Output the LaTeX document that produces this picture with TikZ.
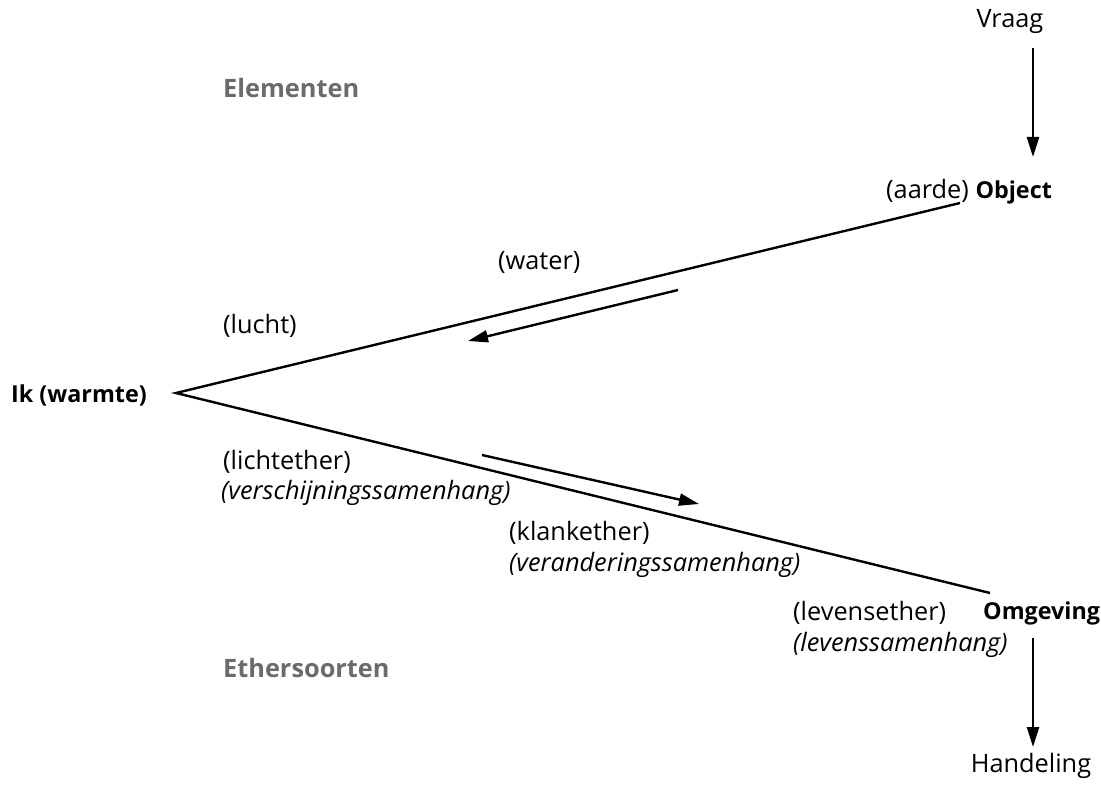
\documentclass[tikz,border=0pt]{standalone}
\usepackage{fontspec}
\setmainfont{Open Sans}
\usepackage{tikz}
\usetikzlibrary{arrows.meta}

\newcommand{\vet}[1]{{\fontsize{17.5}{22}\selectfont\bfseries #1}}

\begin{document}
\begin{tikzpicture}[x=0.75pt, y=-0.75pt, line width=1.8pt,
    >={Triangle[length=15pt,width=9pt]},
    every node/.style={inner sep=0pt, font=\fontsize{19}{22}\selectfont},
    kop/.style={anchor=west, text=black!58, font=\fontsize{19}{22}\selectfont\bfseries},
    tekst/.style={anchor=west},
    naam/.style={anchor=west, font=\fontsize{17.5}{22}\selectfont\bfseries}]
    \useasboundingbox (0,0) rectangle (1101,788);

    % koppen
    \node[kop] (elementen) at (222,88) {Elementen};
    \node[kop] (ethers) at (222,668) {Ethersoorten};

    % vraag en object
    \node (vraag) at (1010,22) {Vraag};
    \node[tekst] (aarde) at (885,192) {(aarde) \vet{Object}};
    \coordinate (vraagB) at (1033,48);
    \coordinate (objectT) at (1033,157);
    \draw[->] (vraagB) -- (objectT);

    % ik en de twee lijnen
    \node[naam] (ik) at (10,395) {Ik (warmte)};
    \coordinate (top) at (176,393);
    \coordinate (objEind) at (960,203);
    \coordinate (omgEind) at (990,593);
    \draw (objEind) -- (top) -- (omgEind);

    % pijlen langs de lijnen
    \coordinate (p1) at (678,290);
    \coordinate (p2) at (468,341);
    \draw[->] (p1) -- (p2);
    \coordinate (q1) at (482,455);
    \coordinate (q2) at (699,504);
    \draw[->] (q1) -- (q2);

    % elementen
    \node[tekst] (water) at (497,262) {(water)};
    \node[tekst] (lucht) at (222,326) {(lucht)};

    % ethers
    \node[tekst] (licht) at (222,462) {(lichtether)};
    \node[tekst] (lichtS) at (220,493) {\itshape (verschijningssamenhang)};
    \node[tekst] (klank) at (508,533) {(klankether)};
    \node[tekst] (klankS) at (508,565) {\itshape (veranderingssamenhang)};
    \node[tekst] (leven) at (792,613) {(levensether)};
    \node[tekst] (levenS) at (792,645) {\itshape (levenssamenhang)};

    % omgeving en handeling
    \node[naam] (omgeving) at (982,613) {Omgeving};
    \node (handeling) at (1031,766) {Handeling};
    \coordinate (omgB) at (1033,638);
    \coordinate (handT) at (1033,747);
    \draw[->] (omgB) -- (handT);
\end{tikzpicture}
\end{document}
